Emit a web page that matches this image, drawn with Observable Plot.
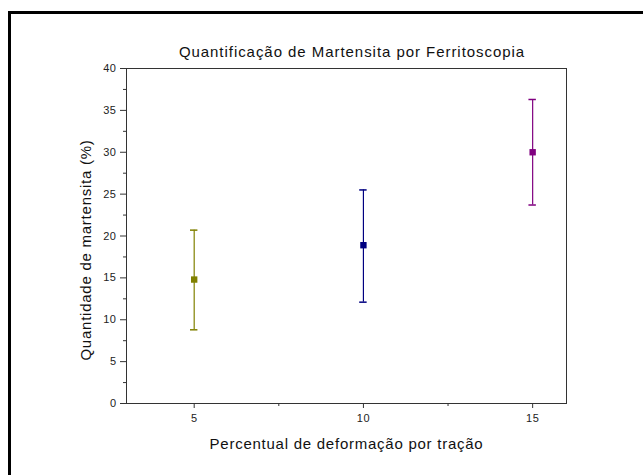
<!DOCTYPE html>
<html>
<head>
<meta charset="utf-8">
<script src="https://cdn.jsdelivr.net/npm/d3@7"></script>
<script src="https://cdn.jsdelivr.net/npm/@observablehq/plot@0.6"></script>
<style>
  html, body { margin: 0; padding: 0; background: #fff; overflow: hidden; }
  #wrap { position: relative; width: 643px; height: 475px; }
  #border { position: absolute; left: 8px; top: 11px; width: 700px; height: 600px; border: 3px solid #000; box-sizing: border-box; }
  #title { position: absolute; left: 0; width: 704px; top: 43px; text-align: center;
           font-family: "Liberation Sans", Arial, sans-serif; font-size: 15px; letter-spacing: 0.95px; color: #111; }
  #chart { position: absolute; left: 0; top: 0; }
</style>
</head>
<body>
<div id="wrap">
  <div id="border"></div>
  <div id="chart"></div>
  <div id="title">Quantificação de Martensita por Ferritoscopia</div>
</div>
<script>
const strains = [5, 10, 15];
const means = [14.8, 18.9, 30.0];
const errLow = [8.8, 12.1, 23.7];
const errHigh = [20.7, 25.5, 36.3];
const colors = ["#808000", "#000080", "#800080"];
const xMajorTicks = [5, 10, 15];
const xMinorTicks = [7.5, 12.5];
const yMajorTicks = [0, 5, 10, 15, 20, 25, 30, 35, 40];
const yMinorTicks = [2.5, 7.5, 12.5, 17.5, 22.5, 27.5, 32.5, 37.5];
const xLabel = "Percentual de deformação por tração";
const yLabel = "Quantidade de martensita (%)";

const data = strains.map((s, i) => ({x: s, y: means[i], lo: errLow[i], hi: errHigh[i], c: colors[i]}));
const capHalf = 0.11;

const chart = Plot.plot({
  width: 643,
  height: 475,
  marginLeft: 126,
  marginRight: 77,
  marginTop: 68,
  marginBottom: 72,
  style: {fontFamily: "'Liberation Sans', Arial, sans-serif", fontSize: "11px", color: "#222", background: "transparent"},
  x: {domain: [3, 16]},
  y: {domain: [0, 40]},
  marks: [
    Plot.frame({stroke: "#333", strokeWidth: 1}),
    Plot.axisY({ticks: yMajorTicks, tickSize: 6, tickPadding: 4, label: null, fontSize: 11, stroke: "#333"}),
    Plot.axisY({ticks: yMinorTicks, tickSize: 3, text: null, label: null, stroke: "#333"}),
    Plot.axisX({ticks: xMajorTicks, tickSize: 5, tickPadding: 6, label: null, fontSize: 11, stroke: "#333"}),
    Plot.axisX({ticks: xMinorTicks, tickSize: 3, text: null, label: null, stroke: "#333"}),
    Plot.text([xLabel], {frameAnchor: "bottom", dy: 45, fontSize: 15, fill: "#111", className: "axlabel"}),
    Plot.text([yLabel], {frameAnchor: "left", textAnchor: "middle", dx: -40, dy: 14, rotate: -90, fontSize: 15, fill: "#111", className: "axlabel"}),
    Plot.ruleX(data, {x: "x", y1: "lo", y2: "hi", stroke: "c", strokeWidth: 1.2}),
    Plot.ruleY(data, {y: "hi", x1: d => d.x - capHalf, x2: d => d.x + capHalf, stroke: "c", strokeWidth: 1.5}),
    Plot.ruleY(data, {y: "lo", x1: d => d.x - capHalf, x2: d => d.x + capHalf, stroke: "c", strokeWidth: 1.5}),
    Plot.dot(data, {x: "x", y: "y", symbol: "square", r: 3.6, fill: "c", stroke: "none"})
  ]
});
d3.select(chart).selectAll(".axlabel text").attr("letter-spacing", "0.75px");
d3.select(chart).selectAll("[aria-label^='y-axis tick label'] text, [aria-label^='x-axis tick label'] text").attr("letter-spacing", "0.5px");
document.getElementById("chart").appendChild(chart);
</script>
</body>
</html>
